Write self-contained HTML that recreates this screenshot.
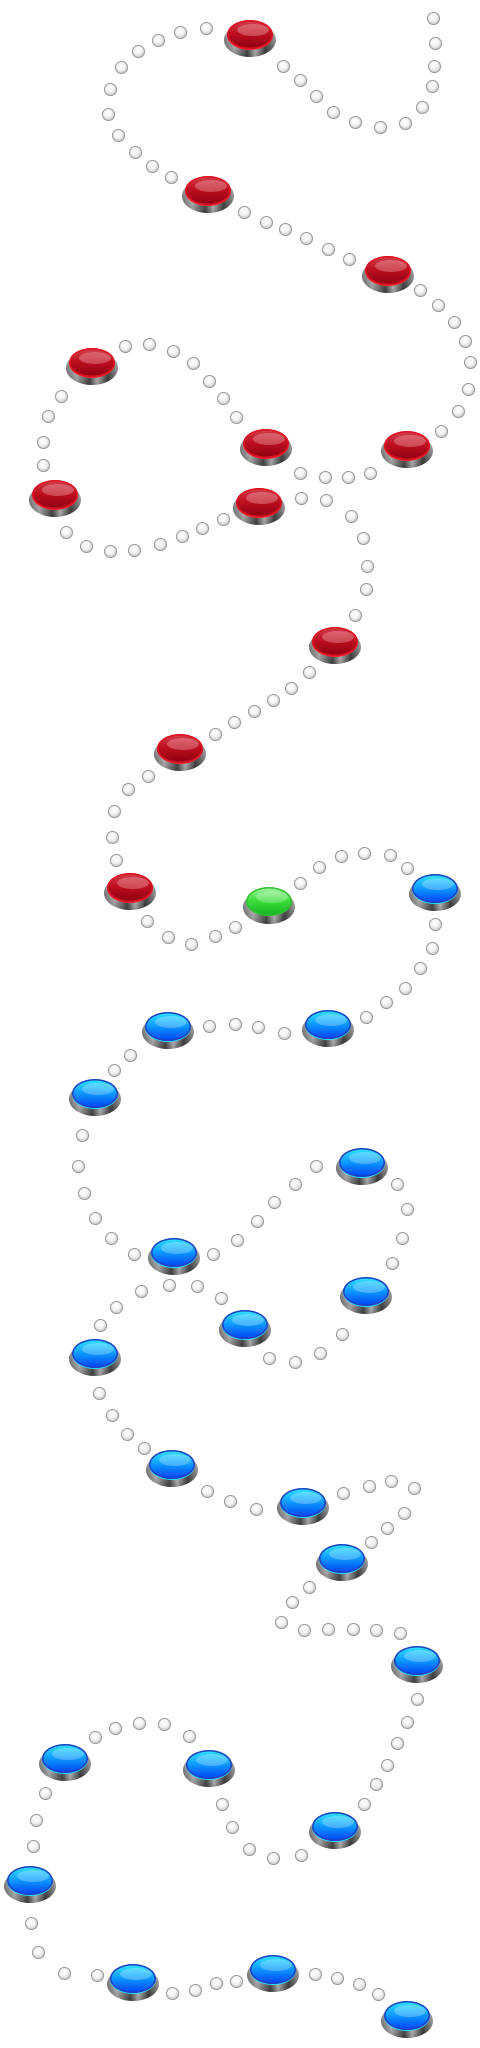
<!DOCTYPE html>
<html><head><meta charset="utf-8">
<style>
html,body{margin:0;padding:0;background:#fff;}
#map{position:relative;width:480px;height:2048px;overflow:hidden;background:#fff;}
.dot{position:absolute;width:13px;height:13px;margin:-6.5px 0 0 -6.5px;border-radius:50%;
 background:radial-gradient(circle at 45% 40%,#fff 0,#f4f4f4 35%,#c8c8c8 70%,#8a8a8a 100%);
 box-shadow:0 0 0 1px #9a9a9a inset;}
.btn{position:absolute;width:52px;height:38px;margin:-19px 0 0 -26px;}
.rim{position:absolute;left:0;top:4px;width:52px;height:34px;border-radius:50%;
 background:linear-gradient(90deg,#777 0,#ddd 20%,#555 45%,#eee 60%,#444 80%,#aaa 100%);}
.rimshade{position:absolute;left:0;top:4px;width:52px;height:34px;border-radius:50%;
 background:linear-gradient(180deg,rgba(255,255,255,.3),rgba(0,0,0,.35));}
.top{position:absolute;left:3px;top:1px;width:46px;height:29px;border-radius:50%;}
.hl{position:absolute;left:10px;top:4px;width:32px;height:12px;border-radius:50%;background:rgba(255,255,255,.25);}
.red .top{background:linear-gradient(180deg,#d4404e 0,#c01020 45%,#8a0010 100%);box-shadow:0 0 0 1.5px #e01020 inset,0 1px 0 #ff2030;}
.green .top{background:linear-gradient(180deg,#a8f4a8 0,#40e040 45%,#10b020 100%);box-shadow:0 0 0 1.5px #30c030 inset;}
.blue .top{background:linear-gradient(180deg,#30e8ff 0,#10a0ff 45%,#0040f0 100%);box-shadow:0 0 0 1.5px #2040c0 inset,0 1px 0 #20e0ff;}
</style></head>
<body>
<div id="map"></div>
<script>
const dotX=[433,435,434,432,422,405,380,355,333,316,300,283,206,180,158,138,121,110,108,118,135,152,171,244,266,285,306,328,349,420,438,454,465,470,468,458,441,125,149,173,193,209,223,236,61,48,43,43,300,325,348,370,301,326,351,363,367,366,355,66,86,110,134,160,182,202,223,309,291,273,254,234,215,148,128,114,112,116,147,168,191,215,235,300,319,341,364,390,407,435,432,420,405,386,366,209,235,258,284,130,114,82,78,84,95,111,134,213,237,257,274,295,316,397,407,402,392,141,169,197,221,100,116,269,295,320,342,99,112,127,144,207,230,256,343,369,391,414,404,387,371,309,292,281,304,328,353,376,400,417,407,397,387,376,364,301,273,249,232,222,189,164,139,115,95,45,36,33,31,38,64,97,172,195,216,236,315,337,359,378];
const dotY=[18,43,66,86,107,123,127,122,112,96,80,66,28,32,40,51,67,89,114,135,152,166,177,212,222,229,238,249,259,290,305,322,341,362,389,411,431,346,344,351,363,381,398,417,396,416,442,465,473,477,477,473,498,500,516,538,566,589,615,532,546,551,550,544,536,528,519,672,688,700,711,722,734,776,789,811,837,860,921,937,944,936,927,883,867,856,853,855,868,924,948,968,988,1002,1017,1026,1024,1027,1033,1055,1070,1135,1166,1193,1218,1238,1254,1254,1240,1221,1202,1184,1166,1184,1209,1238,1263,1291,1285,1286,1298,1325,1307,1358,1362,1353,1334,1393,1415,1434,1448,1491,1501,1509,1493,1486,1481,1488,1513,1528,1542,1587,1602,1622,1630,1629,1629,1630,1633,1699,1722,1743,1765,1784,1804,1855,1858,1849,1827,1804,1736,1724,1723,1728,1737,1793,1820,1846,1923,1952,1973,1975,1993,1990,1983,1981,1974,1978,1984,1994];
const btnX=[250,208,388,92,266,407,55,259,335,180,130,269,435,168,328,95,362,174,245,366,95,172,303,342,417,65,209,335,30,133,273,407];
const btnY=[38,194,274,366,447,449,498,506,645,752,891,905,892,1030,1028,1097,1166,1256,1328,1295,1357,1468,1506,1562,1664,1762,1768,1830,1884,1982,1973,2019];
const btnState=["red","red","red","red","red","red","red","red","red","red","red","green","blue","blue","blue","blue","blue","blue","blue","blue","blue","blue","blue","blue","blue","blue","blue","blue","blue","blue","blue","blue"];

const map=document.getElementById('map');
for(let i=0;i<dotX.length;i++){
  const d=document.createElement('div');
  d.className='dot';
  d.style.left=dotX[i]+'px';
  d.style.top=dotY[i]+'px';
  
  
  map.appendChild(d);
}
for(let i=0;i<btnX.length;i++){
  const b=document.createElement('div');
  b.className='btn '+btnState[i];
  b.style.left=btnX[i]+'px';
  b.style.top=btnY[i]+'px';
  b.innerHTML='<div class="rim"></div><div class="rimshade"></div><div class="top"><div class="hl"></div></div>';
  
  
  map.appendChild(b);
}
</script>
</body></html>
